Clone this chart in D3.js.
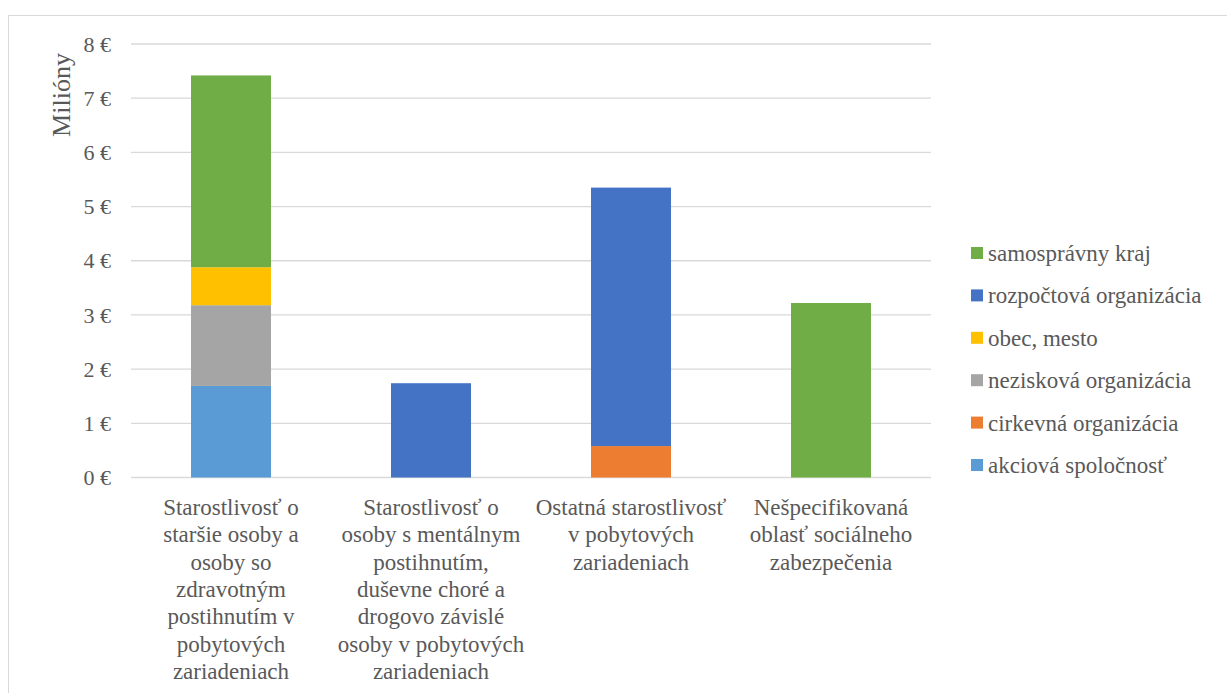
<!DOCTYPE html>
<html><head><meta charset="utf-8">
<script src="https://cdn.jsdelivr.net/npm/d3@7"></script>
<style>body{margin:0;background:#fff;}</style>
</head><body>
<svg id="c" width="1227" height="693"></svg>
<script>
const categories = ["c1","c2","c3","c4"];
const categoryLabels = [
  ["Starostlivosť o","staršie osoby a","osoby so","zdravotným","postihnutím v","pobytových","zariadeniach"],
  ["Starostlivosť o","osoby s mentálnym","postihnutím,","duševne choré a","drogovo závislé","osoby v pobytových","zariadeniach"],
  ["Ostatná starostlivosť","v pobytových","zariadeniach"],
  ["Nešpecifikovaná","oblasť sociálneho","zabezpečenia"]
];
const seriesNames = ["akciová spoločnosť","cirkevná organizácia","nezisková organizácia","obec, mesto","rozpočtová organizácia","samosprávny kraj"];
const seriesColors = ["#5b9bd5","#ed7d31","#a5a5a5","#ffc000","#4472c4","#70ad47"];
const akciova   = [1.69, 0, 0, 0];
const cirkevna  = [0, 0, 0.58, 0];
const neziskova = [1.49, 0, 0, 0];
const obec      = [0.70, 0, 0, 0];
const rozpoctova= [0, 1.74, 4.77, 0];
const samospravny=[3.54, 0, 0, 3.22];
const yTicks = [0,1,2,3,4,5,6,7,8];
const yLabel = "Milióny";

const seriesValues = [akciova, cirkevna, neziskova, obec, rozpoctova, samospravny];
const svg = d3.select("#c");
const W = 1227, H = 693;
const FONT = '"Times New Roman","Liberation Serif",Tinos,"Noto Serif","DejaVu Serif",FreeSerif,Times,serif';
svg.append("rect").attr("x",8.5).attr("y",15.5).attr("width",W+10).attr("height",H+10)
  .attr("fill","none").attr("stroke","#d9d9d9").attr("stroke-width",1);

const x = d3.scaleBand().domain(categories).range([131,931]).paddingInner(0.6).paddingOuter(0.3);
const y = d3.scaleLinear().domain([0,8]).range([477.5,44]);

svg.append("g").selectAll("line").data(yTicks).join("line")
  .attr("x1",131).attr("x2",931).attr("y1",d=>y(d)).attr("y2",d=>y(d))
  .attr("stroke","#d9d9d9").attr("stroke-width",1.3);

svg.append("g").selectAll("text").data(yTicks).join("text")
  .attr("x",111).attr("y",d=>y(d)).attr("dy","0.35em").attr("text-anchor","end")
  .attr("fill","#595959").attr("font-family",FONT).attr("font-size",22).text(d=>d+" €");

svg.append("text").attr("transform","translate(70,95) rotate(-90)").attr("text-anchor","middle")
  .attr("fill","#595959").attr("font-family",FONT).attr("font-size",26).text(yLabel);

const rows = categories.map((c,i)=>{const o={cat:c}; seriesNames.forEach((s,j)=>o[s]=seriesValues[j][i]); return o;});
const stack = d3.stack().keys(seriesNames)(rows);
const bw = 80;
svg.append("g").selectAll("g").data(stack).join("g")
  .attr("fill",(d,i)=>seriesColors[i])
  .selectAll("rect").data(d=>d.filter(p=>p[1]-p[0]>0)).join("rect")
  .attr("x",d=>x(d.data.cat)+x.bandwidth()/2-bw/2).attr("width",bw)
  .attr("y",d=>y(d[1])).attr("height",d=>y(d[0])-y(d[1]));

categories.forEach((c,i)=>{
  const t = svg.append("text").attr("text-anchor","middle").attr("fill","#595959")
    .attr("font-family",FONT).attr("font-size",23);
  categoryLabels[i].forEach((ln,k)=>{
    t.append("tspan").attr("x",x(c)+x.bandwidth()/2).attr("y",515+k*27.3).text(ln);
  });
});

const legendOrder = seriesNames.map((s,i)=>i).reverse();
const lg = svg.append("g");
legendOrder.forEach((si,k)=>{
  const yy = 253 + k*42.4;
  lg.append("rect").attr("x",971).attr("y",yy-6).attr("width",12).attr("height",12).attr("fill",seriesColors[si]);
  lg.append("text").attr("x",988).attr("y",yy).attr("dy","0.35em").attr("fill","#595959")
    .attr("font-family",FONT).attr("font-size",23).text(seriesNames[si]);
});
</script>
</body></html>
